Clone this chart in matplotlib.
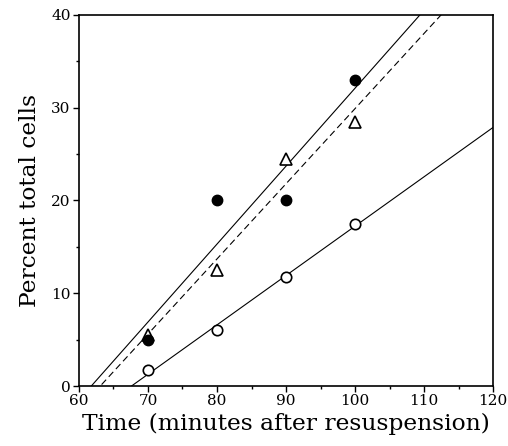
import numpy as np
import matplotlib
matplotlib.use("Agg")
import matplotlib.pyplot as plt
from matplotlib.ticker import MultipleLocator

plt.rcParams["font.family"] = ["DejaVu Serif"]

# time points (minutes after resuspension)
minutes = [70, 80, 90, 100]
# percent total cells per series
filled_circles = [5.0, 20.0, 20.0, 33.0]
open_triangles = [5.5, 12.5, 24.5, 28.5]
open_circles = [1.7, 6.0, 11.8, 17.5]

fig = plt.figure(figsize=(5.08, 4.46), dpi=100)
ax = fig.add_axes([0.1555, 0.1345, 0.815, 0.832])

xs = np.array([55.0, 125.0])

# --- regression lines ---
for vals, dashed in [(filled_circles, False), (open_triangles, True), (open_circles, False)]:
    slope, icpt = np.polyfit(minutes, vals, 1)
    line, = ax.plot(xs, slope * xs + icpt, color="black", linewidth=0.8)
    if dashed:
        line.set_dashes((6, 3.5))

# --- data points ---
ax.plot(minutes, open_triangles, linestyle="none", marker="^", markersize=8.5,
        markerfacecolor="white", markeredgecolor="black", markeredgewidth=1.2)
ax.plot(minutes, filled_circles, linestyle="none", marker="o", markersize=7.5,
        markerfacecolor="black", markeredgecolor="black")
ax.plot(minutes, open_circles, linestyle="none", marker="o", markersize=7.5,
        markerfacecolor="white", markeredgecolor="black", markeredgewidth=1.2)

ax.set_xlim(60, 120)
ax.set_ylim(0, 40)
ax.xaxis.set_major_locator(MultipleLocator(10))
ax.xaxis.set_minor_locator(MultipleLocator(5))
ax.yaxis.set_major_locator(MultipleLocator(10))
ax.yaxis.set_minor_locator(MultipleLocator(5))
ax.tick_params(which="major", direction="out", length=4, width=1, labelsize=11, pad=2)
ax.tick_params(which="minor", direction="out", length=2.5, width=1)
for sp in ax.spines.values():
    sp.set_linewidth(1.2)

ax.set_xlabel("Time (minutes after resuspension)", fontsize=16.8, labelpad=3)
ax.set_ylabel("Percent total cells", fontsize=16.8, labelpad=7)

fig.savefig("out.png", dpi=100)
